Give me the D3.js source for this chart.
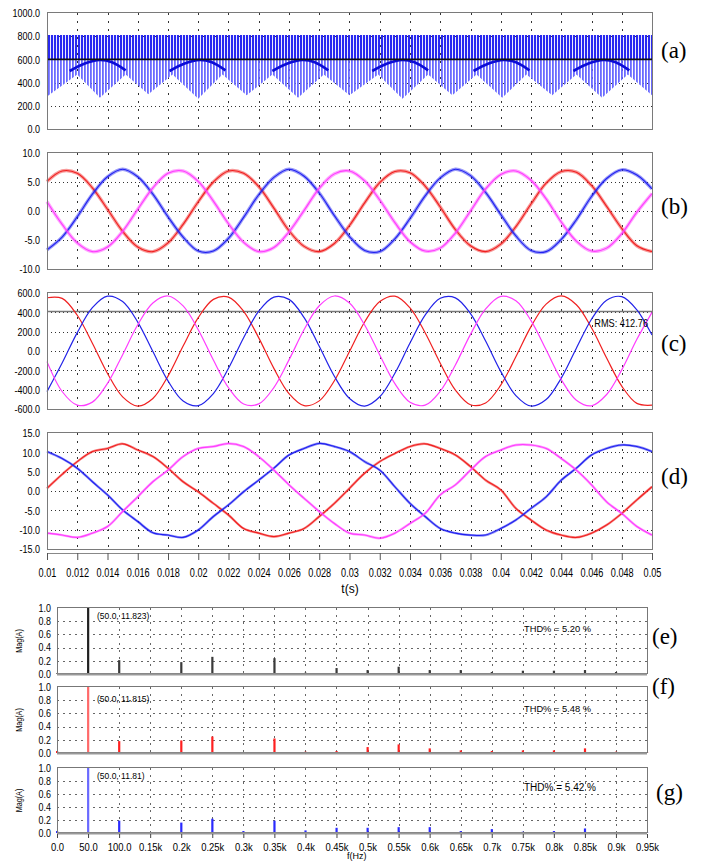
<!DOCTYPE html>
<html>
<head>
<meta charset="utf-8">
<script src="https://cdn.jsdelivr.net/npm/d3@7"></script>
<style>
  body { margin: 0; background: #fff; }
  svg { display: block; }
  svg text { font-family: "Liberation Sans", Arial, sans-serif; fill: #000; }
</style>
</head>
<body>
<svg id="chart" width="702" height="861"></svg>
<script>
// ---- data ----
const tSamp = [0.010,0.011,0.012,0.013,0.014,0.015,0.016,0.017,0.018,0.019,0.020,0.021,0.022,0.023,0.024,0.025,0.026,0.027,0.028,0.029,0.030,0.031,0.032,0.033,0.034,0.035,0.036,0.037,0.038,0.039,0.040,0.041,0.042,0.043,0.044,0.045,0.046,0.047,0.048,0.049,0.050];
const tTicks = [0.01,0.012,0.014,0.016,0.018,0.02,0.022,0.024,0.026,0.028,0.03,0.032,0.034,0.036,0.038,0.04,0.042,0.044,0.046,0.048,0.05];
const tTickLabels = ["0.01","0.012","0.014","0.016","0.018","0.02","0.022","0.024","0.026","0.028","0.03","0.032","0.034","0.036","0.038","0.04","0.042","0.044","0.046","0.048","0.05"];

// (a) dc-link voltage: lower envelope of the switching pulses, top level, mean line, dark arcs
const aLowT = [0.0100,0.0120,0.0135,0.0152,0.0167,0.0183,0.0200,0.0216,0.0232,0.0249,0.0266,0.0283,0.0300,0.0319,0.0335,0.0352,0.0368,0.0384,0.0401,0.0417,0.0434,0.0450,0.0467,0.0484,0.0500];
const aLow  = [280,470,270,470,300,470,260,470,290,470,270,470,290,470,260,470,290,470,270,470,290,470,270,470,290];
const aTop = 810;
const aMean = 600;
const aArcT = [
  [0.0115,0.0125,0.0135,0.0143,0.0152],
  [0.0181,0.0191,0.0201,0.0209,0.0218],
  [0.0249,0.0259,0.0269,0.0277,0.0286],
  [0.0315,0.0325,0.0335,0.0343,0.0352],
  [0.0382,0.0392,0.0402,0.0410,0.0419],
  [0.0448,0.0458,0.0468,0.0476,0.0485]
];
const aArcV = [500,565,595,575,505];
const aTicks = [0,200,400,600,800,1000];
const aLabels = ["0.0","200.0","400.0","600.0","800.0","1000.0"];

// (b)
const bRed  = [5.1,6.9,6.5,4.0,0.3,-3.5,-6.2,-7.0,-5.5,-2.3,1.6,5.0,6.9,6.5,4.2,0.5,-3.4,-6.1,-7.0,-5.6,-2.5,1.4,4.9,6.8,6.6,4.3,0.7,-3.2,-6.0,-7.0,-5.7,-2.7,1.2,4.8,6.8,6.7,4.4,0.8,-3.0,-6.0,-7.0];
const bBlue = [-6.7,-4.5,-1.0,2.9,5.9,7.2,5.9,2.9,-1.0,-4.5,-6.9,-6.9,-4.7,-1.1,2.8,5.8,7.2,6.0,3.1,-0.8,-4.4,-6.8,-7.0,-4.8,-1.3,2.6,5.7,7.2,6.1,3.2,-0.6,-4.3,-6.8,-7.0,-4.9,-1.5,2.5,5.6,7.1,6.2,3.8];
const bMag  = [1.6,-2.3,-5.5,-7.0,-6.2,-3.5,0.3,4.0,6.5,6.9,5.1,1.7,-2.2,-5.4,-7.0,-6.3,-3.6,0.1,3.9,6.4,6.9,5.2,1.9,-2.0,-5.3,-6.9,-6.4,-3.8,0.0,3.8,6.3,6.9,5.3,2.1,-1.9,-5.2,-6.9,-6.4,-3.9,-0.2,3.0];
const bTicks = [-10,-5,0,5,10];
const bLabels = ["-10.0","-5.0","0.0","5.0","10.0"];

// (c)
const cRed  = [551,544,370,81,-232,-474,-570,-491,-260,51,345,534,558,411,136,-180,-441,-565,-516,-308,-5,300,512,567,447,189,-126,-404,-556,-537,-353,-60,252,485,570,479,240,-72,-363,-542,-560];
const cBlue = [-420,-125,190,448,567,511,299,-6,-309,-517,-565,-440,-179,137,412,558,534,345,49,-261,-491,-570,-473,-230,83,371,545,550,387,104,-211,-461,-569,-502,-280,29,328,526,562,425,165];
const cMag  = [-110,-419,-560,-529,-335,-38,271,497,569,466,220,-94,-380,-548,-547,-378,-92,222,468,569,496,269,-41,-338,-531,-560,-416,-145,172,435,565,519,314,12,-295,-509,-567,-450,-195,121,400];
const cRms = 412.76;
const cTicks = [-600,-400,-200,0,200,400,600];
const cLabels = ["-600.0","-400.0","-200.0","0.0","200.0","400.0","600.0"];

// (d)
const dRed  = [0.7,4.3,7.6,10.2,11.0,12.2,10.6,8.9,5.9,2.4,-0.2,-3.2,-6.2,-9.7,-10.9,-11.8,-10.9,-9.7,-6.6,-3.2,0.7,4.6,7.6,9.7,11.5,12.2,11.0,9.3,6.3,2.8,0.3,-4.5,-7.5,-10.1,-11.4,-12.0,-10.9,-8.8,-5.8,-2.3,1.1];
const dBlue = [10.2,8.4,5.9,2.4,-1.0,-4.9,-7.9,-10.8,-11.4,-12.0,-10.1,-6.6,-3.6,-0.2,2.8,5.9,9.3,11.0,12.3,11.5,10.2,7.6,5.4,1.1,-3.2,-6.6,-9.7,-10.9,-11.4,-11.4,-9.7,-7.5,-4.5,-1.5,2.8,5.9,9.3,11.0,11.9,11.5,10.2];
const dMag  = [-10.9,-11.4,-12.0,-10.9,-9.2,-5.3,-1.5,2.4,5.4,8.9,11.0,11.5,12.3,11.5,8.9,5.4,1.6,-1.9,-5.3,-8.4,-10.9,-11.4,-12.2,-10.9,-8.4,-5.8,-1.0,1.6,5.4,8.9,10.6,11.9,11.9,11.0,8.4,5.4,1.6,-2.8,-5.8,-9.2,-11.4];
const dTicks = [-15,-10,-5,0,5,10,15];
const dLabels = ["-15.0","-10.0","-5.0","0.0","5.0","10.0","15.0"];

// (e)(f)(g) spectra
const freqs = [0,50,100,150,200,250,300,350,400,450,500,550,600,650,700,750,800,850,900,950];
const fLabels = ["0.0","50.0","100.0","0.15k","0.2k","0.25k","0.3k","0.35k","0.4k","0.45k","0.5k","0.55k","0.6k","0.65k","0.7k","0.75k","0.8k","0.85k","0.9k","0.95k"];
const magE = [0.01,1.0,0.21,0.01,0.18,0.26,0.01,0.24,0.02,0.09,0.06,0.11,0.06,0.06,0.03,0.05,0.05,0.06,0.03,0.0];
const magF = [0.03,1.0,0.18,0.01,0.19,0.25,0.01,0.22,0.02,0.03,0.09,0.13,0.07,0.04,0.03,0.04,0.04,0.07,0.02,0.01];
const magG = [0.03,1.0,0.19,0.01,0.16,0.22,0.03,0.19,0.04,0.08,0.08,0.09,0.09,0.03,0.06,0.02,0.03,0.07,0.01,0.01];
const magTicks = [0,0.2,0.4,0.6,0.8,1.0];
const magLabels = ["0.0","0.2","0.4","0.6","0.8","1.0"];
const fundLabels = ["(50.0, 11.823)","(50.0, 11.815)","(50.0, 11.81)"];
const thdLabels = ["THD% = 5.20 %","THD% = 5.48 %","THD% = 5.42 %"];

// ---- layout ----
const svg = d3.select("#chart");
const X0 = 47, X1 = 652;
const xT = d3.scaleLinear().domain([0.01, 0.05]).range([X0, X1]);
const crisp = v => Math.round(v) + 0.5;

// the original uses a condensed face; squeeze the installed sans to match
function squeeze(sel, f) {
    sel.each(function () {
        const L = this.getComputedTextLength();
        d3.select(this).attr("textLength", L * f).attr("lengthAdjust", "spacingAndGlyphs");
    });
}

const defs = svg.append("defs");
function stripes(id, color, w) {
    defs.append("pattern").attr("id", id)
        .attr("width", 3).attr("height", 10)
        .attr("patternUnits", "userSpaceOnUse")
        .append("rect").attr("width", w).attr("height", 10).attr("fill", color);
}
stripes("stripeDark", "#2828f0", 2.1);
stripes("stripeLight", "#6a6aff", 1.8);

// frame, grid and y axis of one time panel
function timePanel(top, bottom, domain, ticks, labels) {
    const y = d3.scaleLinear().domain(domain).range([bottom, top]);
    const g = svg.append("g");
    g.selectAll(".hg").data(ticks.slice(1, -1)).join("line")
        .attr("x1", X0).attr("x2", X1)
        .attr("y1", d => crisp(y(d))).attr("y2", d => crisp(y(d)))
        .attr("stroke", "#333").attr("stroke-dasharray", "1,3");
    g.selectAll(".vg").data(tTicks.slice(1, -1)).join("line")
        .attr("x1", d => crisp(xT(d))).attr("x2", d => crisp(xT(d)))
        .attr("y1", top).attr("y2", bottom)
        .attr("stroke", "#333").attr("stroke-dasharray", "2,6");
    const ax = g.append("g").attr("transform", `translate(${X0 - 1},0)`)
        .call(d3.axisLeft(y).tickValues(ticks).tickFormat((d, i) => labels[i]).tickSize(0).tickPadding(6));
    ax.select(".domain").remove();
    ax.selectAll("text").attr("font-size", 11.5).attr("font-family", null);
    squeeze(ax.selectAll("text"), 0.78);
    return { g, y, top, bottom };
}
function frame(p) {
    svg.append("rect").attr("x", X0 + 0.5).attr("y", crisp(p.top) - 1)
        .attr("width", X1 - X0).attr("height", Math.round(p.bottom - p.top) + 1)
        .attr("fill", "none").attr("stroke", "#7a7a7a");
}
function wave(p, vals, color, width, opacity) {
    const line = d3.line().x((d, i) => xT(tSamp[i])).y(d => p.y(d)).curve(d3.curveCatmullRom);
    p.g.append("path").datum(vals).attr("d", line)
        .attr("fill", "none").attr("stroke", color)
        .attr("stroke-width", width).attr("stroke-opacity", opacity)
        .attr("stroke-linejoin", "round");
}
function panelLetter(txt, x, y, size) {
    svg.append("text").attr("x", x).attr("y", y).text(txt)
        .style("font-family", "'Liberation Serif','Times New Roman',serif")
        .attr("font-size", size);
}

// (a)
const pA = timePanel(13, 129, [0, 1000], aTicks, aLabels);
const lowPts = aLowT.map((t, i) => ({ t, v: aLow[i] }));
pA.g.append("path").datum(lowPts)
    .attr("d", d3.area().x(d => xT(d.t)).y0(d => pA.y(d.v)).y1(pA.y(aMean)))
    .attr("fill", "url(#stripeLight)");
pA.g.append("path").datum(lowPts)
    .attr("d", d3.area().x(d => xT(d.t)).y0(pA.y(aMean)).y1(pA.y(aTop)))
    .attr("fill", "url(#stripeDark)");
aArcT.forEach(ts => {
    pA.g.append("path").datum(ts)
        .attr("d", d3.line().x(d => xT(d)).y((d, i) => pA.y(aArcV[i])).curve(d3.curveCatmullRom))
        .attr("fill", "none").attr("stroke", "#0c0cd8").attr("stroke-width", 2.6);
});
pA.g.append("line").attr("x1", X0).attr("x2", X1)
    .attr("y1", pA.y(aMean)).attr("y2", pA.y(aMean))
    .attr("stroke", "#111").attr("stroke-width", 1.6);
frame(pA);
panelLetter("(a)", 661, 58, 23);

// (b)
const pB = timePanel(153, 269, [-10, 10], bTicks, bLabels);
[[bRed, "#f02020"], [bBlue, "#2020f0"], [bMag, "#ff3cff"]].forEach(([v, c]) => {
    wave(pB, v, c, 3.4, 0.45);
    wave(pB, v, c, 1.1, 1);
});
frame(pB);
panelLetter("(b)", 661, 214, 23);

// (c)
const pC = timePanel(293, 409, [-600, 600], cTicks, cLabels);
pC.g.append("line").attr("x1", X0).attr("x2", X1)
    .attr("y1", crisp(pC.y(cRms))).attr("y2", crisp(pC.y(cRms)))
    .attr("stroke", "#777").attr("stroke-width", 1.5);
[[cRed, "#f02020"], [cBlue, "#2222e8"], [cMag, "#ff3cff"]].forEach(([v, c]) => wave(pC, v, c, 1.2, 1));
const rms = pC.g.append("text").attr("x", 648).attr("y", pC.y(cRms) + 16)
    .attr("text-anchor", "end").attr("font-size", 11.5).text("RMS: " + cRms.toFixed(2));
squeeze(rms, 0.8);
frame(pC);
panelLetter("(c)", 661, 351, 23);

// (d)
const pD = timePanel(433, 549, [-15, 15], dTicks, dLabels);
[[dRed, "#f02020"], [dBlue, "#2020f0"], [dMag, "#ff3cff"]].forEach(([v, c]) => {
    wave(pD, v, c, 2.4, 0.5);
    wave(pD, v, c, 1.1, 1);
});
frame(pD);
panelLetter("(d)", 661, 484, 23);

// time axis
const tAx = svg.append("g").attr("transform", "translate(0,553)")
    .call(d3.axisBottom(xT).tickValues(tTicks).tickFormat((d, i) => tTickLabels[i]).tickSize(7).tickSizeOuter(0).tickPadding(8));
tAx.select(".domain").attr("stroke", "#888");
tAx.selectAll(".tick line").attr("stroke", "#555");
tAx.selectAll("text").attr("font-size", 12).attr("font-family", null);
squeeze(tAx.selectAll("text"), 0.76);
svg.append("text").attr("x", 350).attr("y", 593).attr("text-anchor", "middle")
    .attr("font-size", 12).text("t(s)");

// spectra
const xF = d3.scaleLinear().domain([0, 950]).range([57, 647]);
const specs = [
    { top: 608, bottom: 674, mags: magE, color: "#3a3a3a", fund: "#202020", letter: "(e)", ly: 644, lx: 652, thdY: 632, fundY: 619 },
    { top: 687, bottom: 753, mags: magF, color: "#ff2020", fund: "#ff6a6a", letter: "(f)", ly: 694, lx: 652, thdY: 712, fundY: 702 },
    { top: 768, bottom: 833, mags: magG, color: "#2a2aff", fund: "#6a6aff", letter: "(g)", ly: 800, lx: 656, thdY: 791, fundY: 779 }
];
specs.forEach((s, k) => {
    const y = d3.scaleLinear().domain([0, 1]).range([s.bottom, s.top]);
    const g = svg.append("g");
    g.selectAll(".hg").data(magTicks.slice(1, -1)).join("line")
        .attr("x1", xF(0)).attr("x2", xF(950))
        .attr("y1", d => crisp(y(d))).attr("y2", d => crisp(y(d)))
        .attr("stroke", "#666").attr("stroke-dasharray", "2,4");
    g.selectAll(".vg").data(freqs.slice(1, -1)).join("line")
        .attr("x1", d => crisp(xF(d))).attr("x2", d => crisp(xF(d)))
        .attr("y1", s.top).attr("y2", s.bottom)
        .attr("stroke", "#666").attr("stroke-dasharray", "2,5");
    g.selectAll(".bar").data(s.mags).join("rect")
        .attr("x", (d, i) => xF(freqs[i]) - 1)
        .attr("width", 2.2)
        .attr("y", d => y(Math.min(d, 1)))
        .attr("height", d => s.bottom - y(Math.min(d, 1)))
        .attr("fill", (d, i) => freqs[i] === 50 ? s.fund : s.color);
    const ax = g.append("g").attr("transform", `translate(${xF(0)},0)`)
        .call(d3.axisLeft(y).tickValues(magTicks).tickFormat((d, i) => magLabels[i]).tickSize(0).tickPadding(6));
    ax.select(".domain").remove();
    ax.selectAll("text").attr("font-size", 10.5).attr("font-family", null);
    squeeze(ax.selectAll("text"), 0.85);
    g.append("rect").attr("x", crisp(xF(0))).attr("y", s.top - 0.5)
        .attr("width", Math.round(xF(950) - xF(0))).attr("height", s.bottom - s.top)
        .attr("fill", "none").attr("stroke", "#777");
    g.append("line").attr("x1", xF(0)).attr("x2", xF(950))
        .attr("y1", s.bottom + 0.5).attr("y2", s.bottom + 0.5)
        .attr("stroke", "#999").attr("stroke-width", 2);
    const mag = g.append("text").attr("transform", `translate(22,${(s.top + s.bottom) / 2}) rotate(-90)`)
        .attr("text-anchor", "middle").attr("font-size", 8.5).text("Mag(A)");
    squeeze(mag, 0.85);
    g.append("text").attr("x", 97).attr("y", s.fundY)
        .attr("font-size", 8.5).text(fundLabels[k]);
    g.append("text").attr("x", 524).attr("y", s.thdY)
        .attr("font-size", k === 2 ? 10 : 9.3).text(thdLabels[k]);
    panelLetter(s.letter, s.lx, s.ly, 23);
});

const fAx = svg.append("g").attr("transform", "translate(0,834)")
    .call(d3.axisBottom(xF).tickValues(freqs).tickFormat((d, i) => fLabels[i]).tickSize(4).tickSizeOuter(0).tickPadding(6));
fAx.select(".domain").remove();
fAx.selectAll(".tick line").attr("stroke", "#444");
fAx.selectAll("text").attr("font-size", 10.5).attr("font-family", null);
squeeze(fAx.selectAll("text"), 0.9);
svg.append("text").attr("x", 347).attr("y", 859).attr("font-size", 9).text("f(Hz)");
</script>
</body>
</html>
